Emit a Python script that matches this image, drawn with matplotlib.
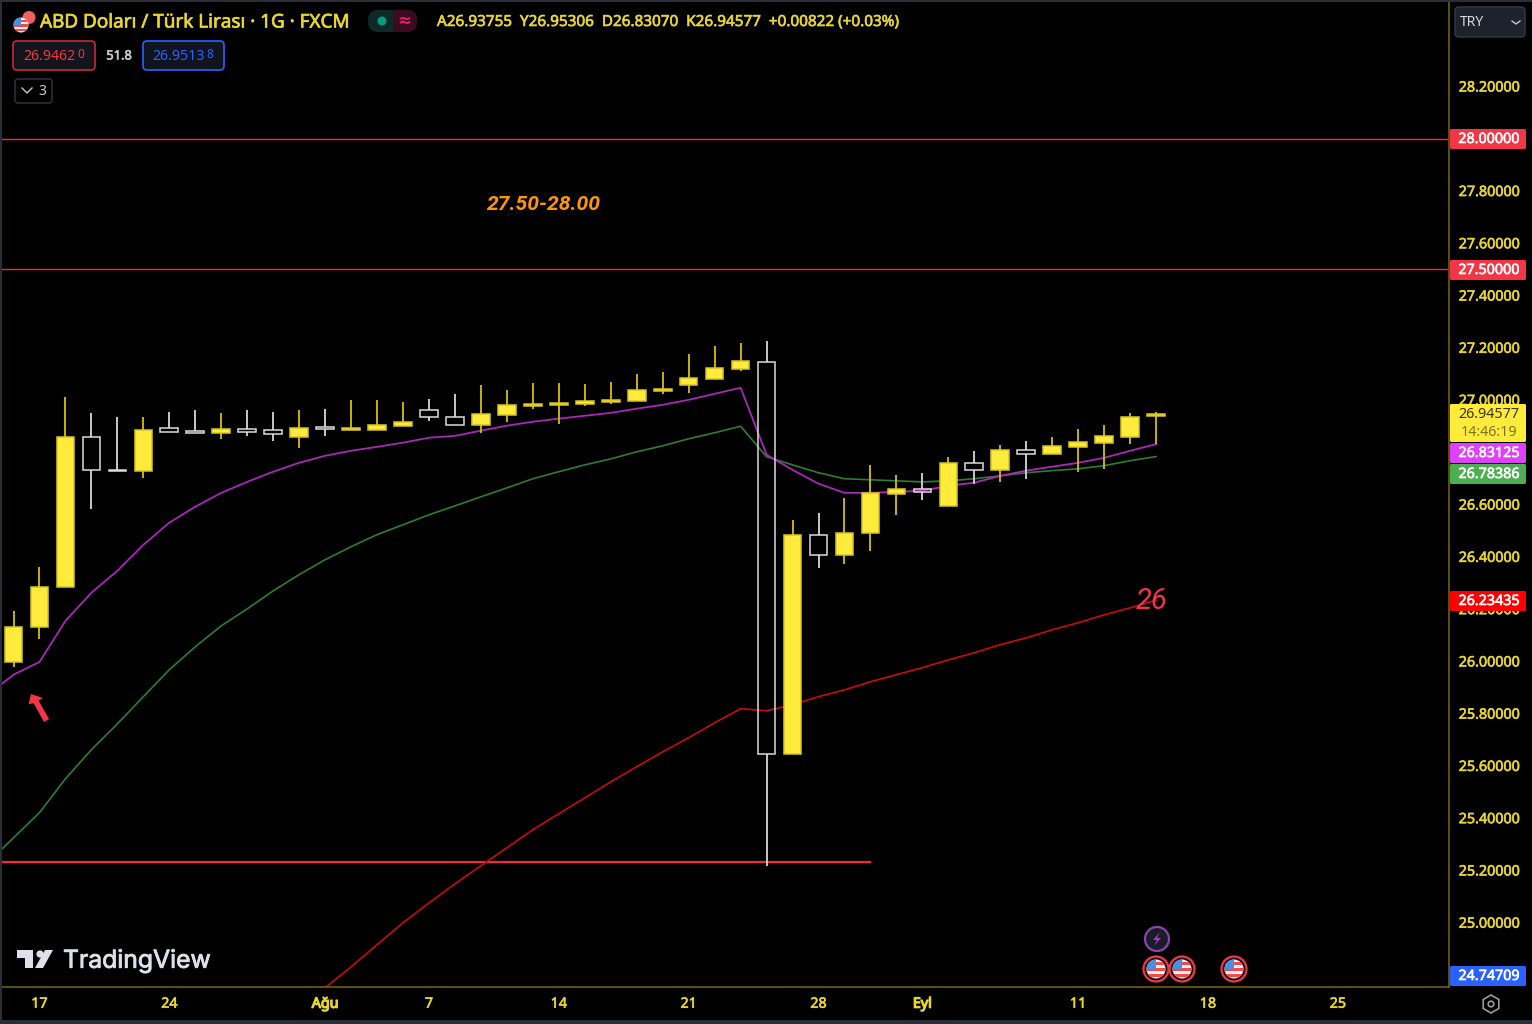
import matplotlib
matplotlib.use("Agg")
import matplotlib.pyplot as plt
import matplotlib.patheffects as pe
from matplotlib.patches import Rectangle, FancyBboxPatch, Circle, Polygon, RegularPolygon
from matplotlib.transforms import ScaledTranslation

plt.rcParams['font.family'] = ['Noto Sans', 'DejaVu Sans']

# candles, first one is 14 Jul
opens = [25.998, 26.132, 26.286, 26.860, 26.733, 26.730, 26.894, 26.881, 26.875, 26.890, 26.886, 26.860,
         26.898, 26.886, 26.886, 26.902, 26.963, 26.936, 26.906, 26.944, 26.978, 26.982, 26.986, 26.994,
         26.997, 27.036, 27.059, 27.082, 27.120, 27.147, 25.646, 26.485, 26.408, 26.492, 26.641, 26.661,
         26.595, 26.760, 26.733, 26.810, 26.794, 26.821, 26.837, 26.860, 26.93755]
highs = [26.194, 26.362, 27.013, 26.951, 26.936, 26.936, 26.955, 26.963, 26.951, 26.963, 26.953, 26.963,
         26.967, 27.001, 27.001, 26.994, 27.005, 27.024, 27.059, 27.040, 27.066, 27.066, 27.062, 27.070,
         27.101, 27.108, 27.177, 27.208, 27.219, 27.227, 26.542, 26.569, 26.626, 26.752, 26.714, 26.722,
         26.783, 26.806, 26.829, 26.844, 26.860, 26.890, 26.906, 26.951, 26.95306]
lows = [25.979, 26.087, 26.286, 26.584, 26.730, 26.703, 26.879, 26.875, 26.852, 26.863, 26.844, 26.817,
        26.863, 26.886, 26.886, 26.902, 26.921, 26.906, 26.875, 26.917, 26.967, 26.909, 26.978, 26.986,
        26.997, 27.024, 27.028, 27.082, 27.112, 25.218, 25.646, 26.358, 26.374, 26.423, 26.561, 26.618,
        26.595, 26.680, 26.687, 26.699, 26.794, 26.726, 26.737, 26.833, 26.83070]
closes = [26.132, 26.286, 26.860, 26.733, 26.730, 26.886, 26.879, 26.875, 26.890, 26.879, 26.871, 26.894,
          26.890, 26.894, 26.906, 26.917, 26.936, 26.906, 26.948, 26.982, 26.986, 26.990, 26.997, 27.001,
          27.040, 27.043, 27.085, 27.124, 27.150, 25.646, 26.485, 26.408, 26.492, 26.645, 26.661, 26.649,
          26.760, 26.733, 26.810, 26.794, 26.825, 26.840, 26.863, 26.936, 26.94577]

# moving averages, first point sits one bar left of the first candle
ema_purple = [25.872, 25.949, 25.998, 26.155, 26.263, 26.347, 26.446, 26.531, 26.592, 26.645, 26.687, 26.726,
              26.760, 26.787, 26.806, 26.821, 26.837, 26.856, 26.863, 26.883, 26.902, 26.917, 26.929, 26.940,
              26.951, 26.967, 26.982, 27.001, 27.024, 27.047, 26.791, 26.733, 26.680, 26.645, 26.645, 26.649,
              26.653, 26.672, 26.684, 26.710, 26.730, 26.745, 26.760, 26.779, 26.806, 26.83125]
ema_green = [25.229, 25.325, 25.421, 25.551, 25.662, 25.761, 25.865, 25.968, 26.056, 26.136, 26.201, 26.270,
             26.332, 26.389, 26.439, 26.485, 26.523, 26.561, 26.595, 26.630, 26.664, 26.699, 26.726, 26.752,
             26.775, 26.802, 26.825, 26.852, 26.875, 26.900, 26.783, 26.752, 26.722, 26.699, 26.695, 26.691,
             26.687, 26.691, 26.699, 26.710, 26.722, 26.730, 26.737, 26.749, 26.768, 26.78386]
# red one starts at bar 11
ema_red = [24.667, 24.751, 24.831, 24.916, 25.000, 25.076, 25.149, 25.218, 25.287, 25.356, 25.417, 25.478,
           25.539, 25.597, 25.654, 25.708, 25.765, 25.819, 25.811, 25.834, 25.865, 25.891, 25.922, 25.949,
           25.976, 26.006, 26.033, 26.064, 26.090, 26.121, 26.148, 26.178, 26.205, 26.23435]

price_ticks = [25.0, 25.2, 25.4, 25.6, 25.8, 26.0, 26.2, 26.4, 26.6, 26.8, 27.0, 27.2, 27.4, 27.6, 27.8, 28.0, 28.2]
date_pos = [1, 6, 12, 16, 21, 26, 31, 35, 41, 46, 51]
date_labels = ['17', '24', 'Ağu', '7', '14', '21', '28', 'Eyl', '11', '18', '25']
level_lines = [28.0, 27.5]
support = 25.233
support_end = 33

YELLOW = '#ffeb3b'
TXT = '#e8d62e'
AXC = '#6e5f12'
Y_TOP, Y_BOT = 28.531, 24.754

W, H = 1532, 1024
fig = plt.figure(figsize=(W / 100, H / 100), dpi=100, facecolor='#000000')
ax = fig.add_axes([2 / W, (H - 987) / H, 1447 / W, 987 / H], facecolor='#000000')
ax.set_xlim(-0.443, 55.28)
ax.set_ylim(Y_BOT, Y_TOP)


def heavy(t, col, w=0.45):
    # fake the medium weight of the chart font
    t.set_path_effects([pe.withStroke(linewidth=w, foreground=col)])
    return t


for v in level_lines:
    ax.axhline(v, color='#f5293c', lw=1.0, zorder=1)
ax.plot([-1, support_end], [support, support], color='#f5293c', lw=1.6, zorder=1)

xs = list(range(-1, len(ema_purple) - 1))
ax.plot(xs, ema_green, color='#2e7d32', lw=1.2, zorder=2)
ax.plot(xs, ema_purple, color='#a828b8', lw=1.3, zorder=2)
ax.plot(list(range(11, 11 + len(ema_red))), ema_red, color='#c80c0c', lw=1.2, zorder=2)

for i in range(len(opens)):
    up = closes[i] >= opens[i]
    wick = '#cdbb00' if up else '#cfcfcf'
    top = max(opens[i], closes[i])
    bot = min(opens[i], closes[i])
    ax.plot([i, i], [top, highs[i]], color=wick, lw=1.35, zorder=3, solid_capstyle='butt')
    ax.plot([i, i], [lows[i], bot], color=wick, lw=1.35, zorder=3, solid_capstyle='butt')
    ax.bar(i, top - bot, width=0.68, bottom=bot, zorder=4, lw=1.1,
           facecolor=YELLOW if up else 'none', edgecolor='#d8c420' if up else '#dcdcdc')

ax.yaxis.tick_right()
ax.set_yticks(price_ticks)
ax.set_yticklabels(['%.5f' % p for p in price_ticks], color=TXT, fontsize=10.3)
ax.set_xticks(date_pos)
ax.set_xticklabels(date_labels, color=TXT, fontsize=10.3)
ax.tick_params(axis='y', length=0, pad=7)
ax.tick_params(axis='x', length=0, pad=7)
up_one = ScaledTranslation(0, 0.5 / 100, fig.dpi_scale_trans)
for lab in ax.get_yticklabels():
    lab.set_transform(lab.get_transform() + up_one)
    heavy(lab, TXT)
for lab in ax.get_xticklabels():
    heavy(lab, TXT, 0.9 if lab.get_text() in ('Ağu', 'Eyl') else 0.45)
for side in ['left', 'top']:
    ax.spines[side].set_visible(False)
for side in ['right', 'bottom']:
    ax.spines[side].set_color(AXC)
    ax.spines[side].set_linewidth(1.2)

ax.text(20.41, 27.748, '27.50-28.00', color='#ff9800', fontsize=15.2, fontstyle='italic', fontweight='bold',
        family='Roboto', ha='center', va='center', zorder=5)
ax.text(43.83, 26.232, '26', color='#f23645', fontsize=21, fontstyle='italic', family='Roboto',
        ha='center', va='center', zorder=5)

# everything else is laid out in picture pixels
ov = fig.add_axes([0, 0, 1, 1], zorder=5)
ov.set_xlim(0, W)
ov.set_ylim(H, 0)
ov.axis('off')


def box(x0, y0, x1, y1, fc, ec='none', lw=1.0, r=2):
    ov.add_patch(FancyBboxPatch((x0, y0), x1 - x0, y1 - y0, boxstyle='round,pad=0,rounding_size=%s' % r,
                                fc=fc, ec=ec, lw=lw))


def flag(cx, cy, r, ring=None):
    if ring:
        ov.add_patch(Circle((cx, cy), r + 3, fc='#10131c', ec=ring, lw=1.6))
    clip = Circle((cx, cy), r, fc='#f0f0f0', ec='none')
    ov.add_patch(clip)
    for k in range(3):
        s = Rectangle((cx - r, cy - r + r * (0.3 + 0.6 * k)), 2 * r, r * 0.3, fc='#f04a4a', ec='none')
        ov.add_patch(s)
        s.set_clip_path(clip)
    c = Rectangle((cx - r, cy - r), r, r, fc='#4a90e2', ec='none')
    ov.add_patch(c)
    c.set_clip_path(clip)


# window frame
for r in [(0, 0, W, 2), (0, 0, 2, H), (0, H - 4, W, 4)]:
    ov.add_patch(Rectangle((r[0], r[1]), r[2], r[3], fc='#2a2e39', ec='none'))

# legend
ov.add_patch(Circle((29, 17.5), 6.5, fc='#f0605f', ec='none'))
flag(21, 25, 7.5)
heavy(ov.text(40, 22.5, 'ABD Doları / Türk Lirası · 1G · FXCM', color=TXT, fontsize=13.6,
              va='center', ha='left'), TXT, 0.5)
box(368, 10, 417, 32, '#0e2a27', r=10)
ov.add_patch(Rectangle((393, 10), 14, 22, fc='#3b0b20', ec='none'))
box(396, 10, 417, 32, '#3b0b20', r=10)
ov.add_patch(Circle((382, 21), 4.5, fc='#089981', ec='none'))
ov.text(404, 21, '≈', color='#e91e63', fontsize=12, fontweight='bold', ha='center', va='center',
        family='DejaVu Sans')
heavy(ov.text(437, 22.5, 'A26.93755  Y26.95306  D26.83070  K26.94577  +0.00822 (+0.03%)', color=TXT,
              fontsize=11, va='center', ha='left'), TXT)

box(13, 41, 95, 70, '#14141c', ec='#c8293b', lw=1.2, r=4)
ov.text(23, 56.5, '26.9462', color='#f23645', fontsize=10.2, va='center', ha='left')
ov.text(77, 54.5, '0', color='#f23645', fontsize=8.5, va='center', ha='left')
heavy(ov.text(119, 56, '51.8', color='#c8c8c8', fontsize=9.3, va='center', ha='center'), '#c8c8c8')
box(143, 41, 224, 70, '#10141f', ec='#2962ff', lw=1.2, r=4)
ov.text(152, 56.5, '26.9513', color='#2962ff', fontsize=10.2, va='center', ha='left')
ov.text(206, 54.5, '8', color='#2962ff', fontsize=8.5, va='center', ha='left')
box(15, 79, 52, 103, '#000000', ec='#2a2e39', lw=1.2, r=3)
ov.plot([22, 27, 32], [88, 93, 88], color='#c8c8c8', lw=1.0)
ov.text(42, 91.5, '3', color='#c8c8c8', fontsize=10, va='center', ha='center')

# currency button
box(1455, 7, 1525, 37, '#1e222d', ec='#363a45', lw=1.0, r=4)
ov.text(1472, 22.5, 'TRY', color='#d8d8d8', fontsize=10, va='center', ha='center')
ov.plot([1512, 1516, 1520], [21, 24, 21], color='#c8c8c8', lw=1.0)

# price tags on the axis
tags = [(139, '28.00000', '#f23645'), (270, '27.50000', '#f23645'), (453, '26.83125', '#e040fb'),
        (474, '26.78386', '#4caf50'), (601, '26.23435', '#ff0000'), (976, '24.74709', '#2962ff')]
for py, label, col in tags:
    box(1450, py - 10, 1526, py + 10, col, r=1.5)
    heavy(ov.text(1489, py + 0.5, label, color='white', fontsize=10.3, va='center', ha='center'), 'white')
box(1450, 404, 1526, 442, YELLOW, r=1.5)
ov.text(1489, 415, '26.94577', color='#3a3505', fontsize=10.3, va='center', ha='center')
ov.text(1489, 432, '14:46:19', color='#7d7420', fontsize=10.3, va='center', ha='center')

# arrow drawn on the chart
ov.add_patch(Polygon([(31, 694), (43, 698), (38.5, 700.5), (49, 719), (44, 722), (33.5, 703), (28.5, 704.5)],
                     fc='#f23645', ec='none'))

# logo
ov.add_patch(Polygon([(17, 950), (33, 950), (33, 968), (25, 968), (25, 958), (17, 958)], fc='#dfe1ea', ec='none'))
ov.add_patch(Circle((40, 954), 3.6, fc='#dfe1ea', ec='none'))
ov.add_patch(Polygon([(53, 950), (43, 968), (35, 968), (45, 950)], fc='#dfe1ea', ec='none'))
heavy(ov.text(63, 961, 'TradingView', color='#dfe1ea', fontsize=17.8, family='Inter',
              va='center', ha='left'), '#dfe1ea', 0.6)

# events
ov.add_patch(Circle((1157, 939), 12, fc='#1a1d28', ec='#8e44ad', lw=1.6))
ov.add_patch(Polygon([(1160, 932), (1153, 940), (1157, 940), (1154, 946), (1161, 938), (1157, 938)],
                     fc='#a03cc0', ec='none'))
for cx in [1156, 1182, 1234]:
    flag(cx, 969, 9.5, ring='#f23645')

# settings icon
ov.add_patch(RegularPolygon((1491, 1004), 6, radius=9, fc='none', ec='#9a9a9a', lw=1.2))
ov.add_patch(Circle((1491, 1004), 2.8, fc='none', ec='#9a9a9a', lw=1.2))

fig.savefig('out.png', dpi=100, facecolor=fig.get_facecolor())
